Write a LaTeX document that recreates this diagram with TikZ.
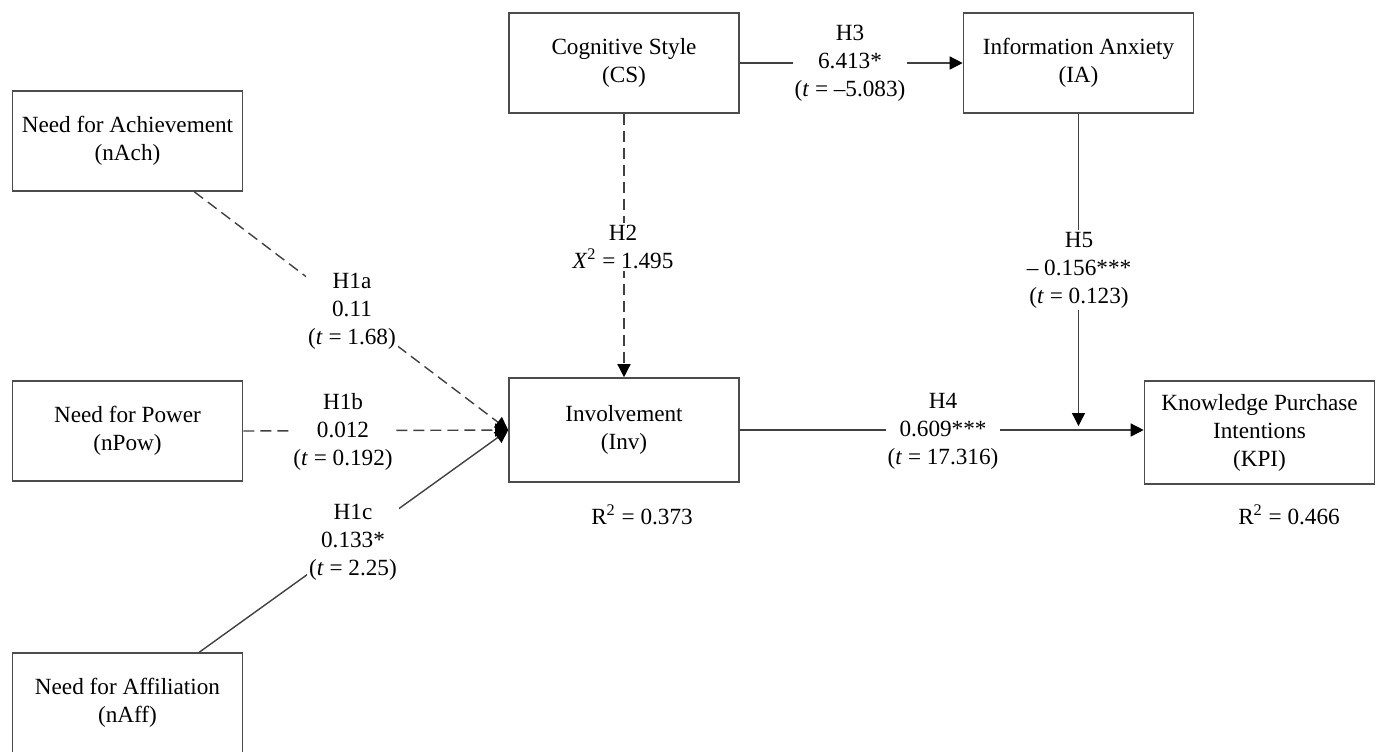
\documentclass[tikz,border=0pt]{standalone}
\usepackage{fontspec}
\setmainfont{Liberation Serif}
\usetikzlibrary{arrows.meta}
\begin{document}
\begin{tikzpicture}[x=0.5pt,y=-0.5pt,
  txt/.style={font=\fontsize{11.6}{14}\selectfont},
  box/.style={txt, draw=black!70, line width=0.8pt, minimum width=115pt, minimum height=50pt, align=center, inner sep=0pt},
  lab/.style={txt, fill=white, align=center, inner sep=1pt},
  conn/.style={draw=black!75, line width=0.7pt, -{Triangle[length=6.5pt,width=6.5pt,black]}},
  dsh/.style={dash pattern=on 5.5pt off 3pt}
]
\useasboundingbox (0,0) rectangle (1378,751);
\clip (0,0) rectangle (1378,751);

% boxes
\node[box] (nAch) at (127.5,141) {Need for Achievement\\(nAch)};
\node[box] (nPow) at (127.5,431) {Need for Power\\(nPow)};
\node[box] (nAff) at (127.5,703) {Need for Affiliation\\(nAff)};
\node[box] (CS) at (624,63) {Cognitive Style\\(CS)};
\node[box] (IA) at (1078.5,63) {Information Anxiety\\(IA)};
\node[box, minimum height=52pt] (Inv) at (624,430) {Involvement\\(Inv)};
\node[box, minimum height=51.5pt] (KPI) at (1259.5,432.5) {Knowledge Purchase\\Intentions\\(KPI)};

% connectors
\draw[conn,dsh] ([xshift=-24.5pt]nAch.south east) -- (Inv.west);
\draw[conn,dsh] (nPow.east) -- (Inv.west);
\draw[conn] ([xshift=-22pt]nAff.north east) -- (Inv.west);
\draw[conn,dsh] (CS.south) -- (Inv.north);
\draw[conn] (CS.east) -- (IA.west);
\draw[conn] (Inv.east) -- (Inv.east -| KPI.west);
\coordinate (h5end) at (1078.5,426);
\draw[conn] (IA.south) -- (h5end);

% labels
\node[lab] (l1a) at (352,311) {H1a\\0.11\\(\textit{t} = 1.68)};
\node[lab] (l1b) at (343,432) {H1b\\0.012\\(\textit{t} = 0.192)};
\node[lab] (l1c) at (353,542) {H1c\\0.133*\\(\textit{t} = 2.25)};
\node[lab] (l2) at (623,247) {H2\\\textit{X}\textsuperscript{2} = 1.495};
\node[lab] (l3) at (850,63) {H3\\6.413*\\(\textit{t} = –5.083)};
\node[lab] (l4) at (943,431) {H4\\0.609***\\(\textit{t} = 17.316)};
\node[lab] (l5) at (1079,270) {H5\\– 0.156***\\(\textit{t} = 0.123)};
\node[txt] (r1) at (642,515) {R\textsuperscript{2} = 0.373};
\node[txt] (r2) at (1289,515) {R\textsuperscript{2} = 0.466};
\end{tikzpicture}
\end{document}
